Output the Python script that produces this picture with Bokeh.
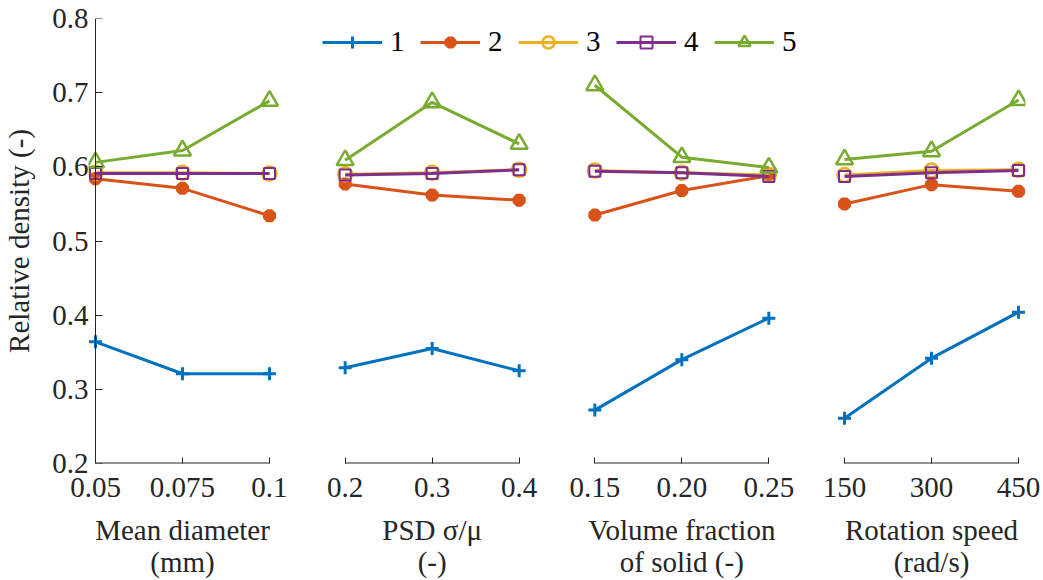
from bokeh.plotting import figure
from bokeh.models import FactorRange, Range1d, Legend, LegendItem, FixedTicker, LinearAxis
from bokeh.embed import file_html
from bokeh.resources import INLINE

# ---- data ----
groups = ["Mean diameter\n(mm)", "PSD σ/μ\n(-)", "Volume fraction\nof solid (-)", "Rotation speed\n(rad/s)"]
levels = [["0.05", "0.075", "0.1"],
          ["0.2", "0.3", "0.4"],
          ["0.15", "0.20", "0.25"],
          ["150", "300", "450"]]
series_names = ["1", "2", "3", "4", "5"]
series1 = [0.364, 0.321, 0.321, 0.329, 0.355, 0.325, 0.272, 0.340, 0.396, 0.261, 0.342, 0.404]
series2 = [0.584, 0.571, 0.534, 0.577, 0.562, 0.555, 0.535, 0.568, 0.588, 0.550, 0.576, 0.567]
series3 = [0.592, 0.592, 0.591, 0.590, 0.592, 0.596, 0.595, 0.592, 0.589, 0.589, 0.595, 0.596]
series4 = [0.591, 0.591, 0.591, 0.589, 0.591, 0.596, 0.594, 0.592, 0.587, 0.587, 0.592, 0.595]
series5 = [0.606, 0.622, 0.689, 0.609, 0.687, 0.631, 0.710, 0.613, 0.599, 0.610, 0.621, 0.690]
y_ticks = [0.2, 0.3, 0.4, 0.5, 0.6, 0.7, 0.8]

all_series = [series1, series2, series3, series4, series5]
colors = ["#0072BD", "#D95319", "#EDB120", "#7E2F8E", "#77AC30"]
FONT = "Liberation Serif"
TXT = "#262626"

factors = [(g, l) for g, ls in zip(groups, levels) for l in ls]

p = figure(x_range=FactorRange(*factors, factor_padding=1, group_padding=0.74,
                               range_padding=-0.339, range_padding_units="absolute"),
           y_range=Range1d(0.2, 0.8),
           frame_width=937, frame_height=445,
           min_border_left=86, min_border_top=18, min_border_right=17, min_border_bottom=0,
           output_backend="svg", toolbar_location=None)
p.outline_line_color = None
p.grid.visible = False
p.background_fill_color = "white"

# y axis labels (at the frame edge, line hidden)
ya = p.yaxis[0]
ya.ticker = FixedTicker(ticks=y_ticks)
ya.axis_label = "Relative density (-)"
ya.axis_label_text_font = FONT
ya.axis_label_text_font_style = "normal"
ya.axis_label_text_font_size = "29px"
ya.axis_label_text_color = TXT
ya.axis_label_standoff = 14
ya.major_label_text_font = FONT
ya.major_label_text_font_size = "29px"
ya.major_label_text_color = TXT
ya.major_label_standoff = 0
ya.major_tick_in = 0
ya.major_tick_out = 0
ya.minor_tick_line_color = None
ya.axis_line_color = None
ya.major_tick_line_color = None

# y axis line + ticks pinned at the first factor (labels shown by the axis above)
yline = LinearAxis(fixed_location=factors[0], ticker=FixedTicker(ticks=y_ticks),
                   major_label_overrides={t: "" for t in y_ticks}, major_label_standoff=0,
                   major_tick_in=7, major_tick_out=0,
                   minor_tick_line_color=None, axis_line_color=TXT, major_tick_line_color=TXT)
p.add_layout(yline, "left")

# x axis (categorical, groups below)
xa = p.xaxis[0]
xa.axis_line_color = None
xa.major_tick_in = 6
xa.major_tick_out = 0
xa.major_tick_line_color = TXT
xa.major_label_text_font = FONT
xa.major_label_text_font_size = "29px"
xa.major_label_text_color = TXT
xa.major_label_standoff = 14
xa.group_text_font = FONT
xa.group_text_font_size = "29px"
xa.group_text_font_style = "normal"
xa.group_text_color = TXT
xa.group_text_line_height = 1.0
xa.separator_line_color = None

# broken axis line per panel
p.segment(x0=[(g, ls[0]) for g, ls in zip(groups, levels)],
          y0=[y_ticks[0]] * len(groups),
          x1=[(g, ls[-1]) for g, ls in zip(groups, levels)],
          y1=[y_ticks[0]] * len(groups),
          line_color=TXT, line_width=2)

marker_styles = [
    dict(marker="cross", size=13, line_width=3, fill_color=None),
    dict(marker="asterisk", size=13, line_width=5, fill_color=None),
    dict(marker="circle", size=14, line_width=2.5, fill_color=None),
    dict(marker="square", size=11, line_width=2, fill_color=None),
    dict(marker="triangle", size=17, line_width=2.5, fill_color=None),
]

items = []
for si, (vals, col, ms) in enumerate(zip(all_series, colors, marker_styles)):
    rends = []
    for gi, (g, ls) in enumerate(zip(groups, levels)):
        xs = [(g, l) for l in ls]
        ys = vals[gi * 3:(gi + 1) * 3]
        lr = p.line(xs, ys, line_color=col, line_width=3)
        sr = p.scatter(xs, ys, line_color=col, **ms)
        if gi == 0:
            rends = [lr, sr]
    items.append(LegendItem(label=series_names[si], renderers=rends))

legend = Legend(items=items, orientation="horizontal", location=(234, 405),
                glyph_width=60, glyph_height=30, label_standoff=8, spacing=10,
                padding=0, margin=0, border_line_color=None, background_fill_alpha=0,
                label_text_font=FONT, label_text_font_size="29px", label_text_color="black")
p.add_layout(legend, "center")

open("out.html", "w").write(file_html(p, INLINE))
